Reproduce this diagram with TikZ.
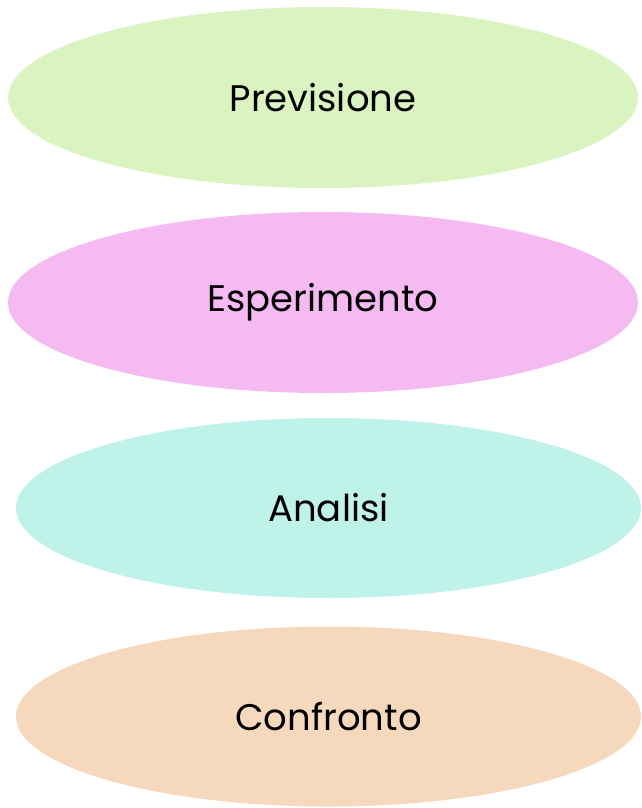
\documentclass[tikz,border=0pt]{standalone}
\usepackage{fontspec}
\setmainfont{Poppins}
\usepackage{tikz}
\usetikzlibrary{shapes.geometric}
\definecolor{prevgreen}{HTML}{D9F4C0}
\definecolor{esppink}{HTML}{F6BAF3}
\definecolor{anacyan}{HTML}{BFF2E8}
\definecolor{confpeach}{HTML}{F6D8BD}
\tikzset{
  phase/.style={ellipse, inner sep=0pt, minimum width=630pt, minimum height=181pt,
    font=\fontsize{37}{44}\selectfont}
}
\begin{document}
\begin{tikzpicture}[x=1pt, y=-1pt]
\useasboundingbox (0,0) rectangle (641,808);
% the four phases, top to bottom
\node[phase, fill=prevgreen] (prev) at (323,97.5) {Previsione};
\node[phase, fill=esppink] (esp) at (323,302.5) {Esperimento};
\node[phase, fill=anacyan, minimum width=625pt, minimum height=180pt] (ana) at (328.5,508) {Analisi};
\node[phase, fill=confpeach, minimum width=625pt, minimum height=180pt] (conf) at (328.5,716.5) {Confronto};
\end{tikzpicture}
\end{document}
